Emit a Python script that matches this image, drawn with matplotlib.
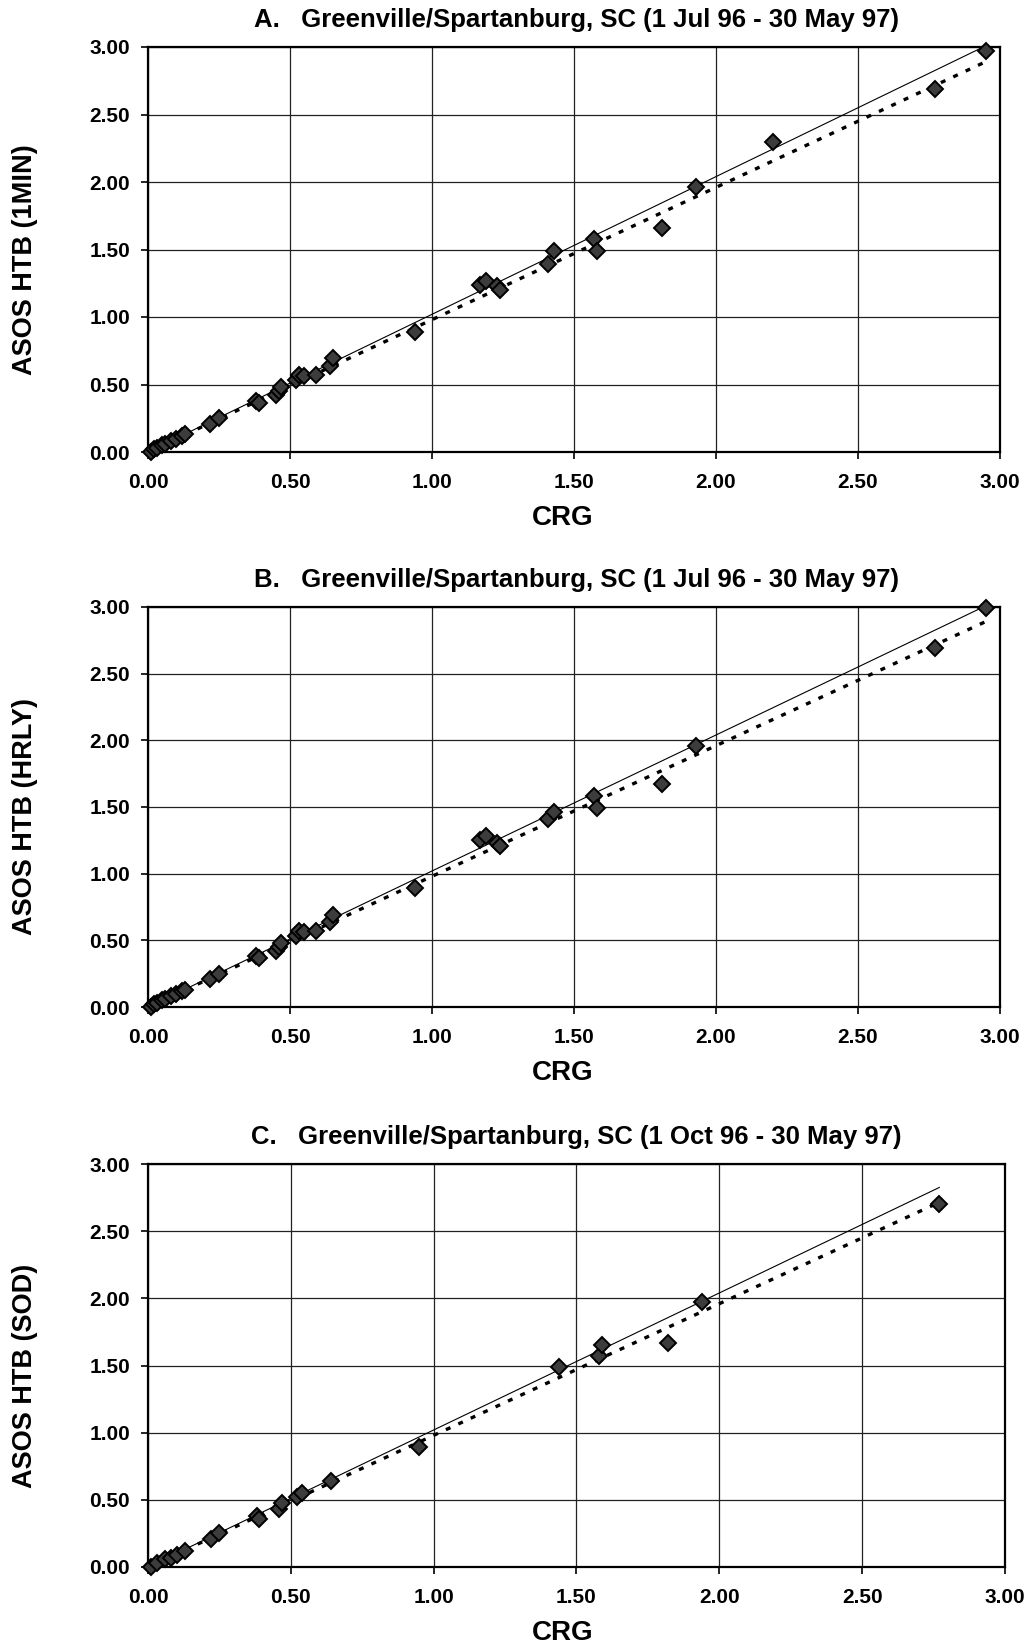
import numpy as np
import matplotlib.pyplot as plt

# data (CRG vs ASOS HTB, inches)
a_crg = [0.01, 0.02, 0.03, 0.05, 0.06, 0.08, 0.10, 0.12, 0.13, 0.22, 0.25,
         0.38, 0.39, 0.45, 0.46, 0.47, 0.52, 0.53, 0.55, 0.59, 0.64, 0.65,
         0.94, 1.17, 1.19, 1.23, 1.24, 1.41, 1.43, 1.57, 1.58, 1.81, 1.93,
         2.20, 2.77, 2.95]
a_htb = [0.00, 0.02, 0.03, 0.05, 0.06, 0.08, 0.10, 0.12, 0.13, 0.21, 0.25,
         0.38, 0.36, 0.42, 0.45, 0.48, 0.53, 0.57, 0.56, 0.57, 0.64, 0.70,
         0.89, 1.24, 1.27, 1.23, 1.20, 1.39, 1.49, 1.58, 1.49, 1.66, 1.96,
         2.30, 2.69, 2.97]

b_crg = [0.01, 0.02, 0.03, 0.05, 0.06, 0.08, 0.10, 0.12, 0.13, 0.22, 0.25,
         0.38, 0.39, 0.45, 0.46, 0.47, 0.52, 0.53, 0.55, 0.59, 0.64, 0.65,
         0.94, 1.17, 1.19, 1.23, 1.24, 1.41, 1.43, 1.57, 1.58, 1.81, 1.93,
         2.77, 2.95]
b_htb = [0.00, 0.02, 0.03, 0.05, 0.06, 0.08, 0.10, 0.12, 0.13, 0.21, 0.25,
         0.38, 0.37, 0.42, 0.45, 0.48, 0.53, 0.57, 0.56, 0.57, 0.64, 0.69,
         0.89, 1.25, 1.28, 1.23, 1.21, 1.41, 1.46, 1.58, 1.49, 1.67, 1.96,
         2.69, 2.99]

c_crg = [0.01, 0.03, 0.06, 0.08, 0.10, 0.13, 0.22, 0.25, 0.38, 0.39, 0.46,
         0.47, 0.52, 0.54, 0.64, 0.95, 1.44, 1.58, 1.59, 1.82, 1.94, 2.77]
c_htb = [0.00, 0.03, 0.06, 0.07, 0.09, 0.12, 0.21, 0.25, 0.38, 0.36, 0.43,
         0.48, 0.52, 0.55, 0.64, 0.89, 1.49, 1.57, 1.65, 1.67, 1.97, 2.70]

titles = ["A.   Greenville/Spartanburg, SC (1 Jul 96 - 30 May 97)",
          "B.   Greenville/Spartanburg, SC (1 Jul 96 - 30 May 97)",
          "C.   Greenville/Spartanburg, SC (1 Oct 96 - 30 May 97)"]
ylabels = ["ASOS HTB (1MIN)", "ASOS HTB (HRLY)", "ASOS HTB (SOD)"]
ticks = [0.0, 0.5, 1.0, 1.5, 2.0, 2.5, 3.0]
tick_labels = ["0.00", "0.50", "1.00", "1.50", "2.00", "2.50", "3.00"]

solid_slope = 1.02
fit_slope = 0.98

plt.rcParams['font.family'] = ['Liberation Sans', 'DejaVu Sans']
plt.rcParams['font.weight'] = 'bold'

W, H = 1030, 1646
fig = plt.figure(figsize=(W / 100, H / 100), dpi=100)

# pixel boxes of the three panels: (left, top, right, bottom)
boxes = [(148, 47, 1000, 452), (148, 607, 1000, 1007), (148, 1164, 1005, 1567)]
panels = [(a_crg, a_htb), (b_crg, b_htb), (c_crg, c_htb)]

for k in range(3):
    l, t, r, b = boxes[k]
    ax = fig.add_axes([l / W, 1 - b / H, (r - l) / W, (b - t) / H])
    xs, ys = panels[k]
    xs = np.array(xs)
    ys = np.array(ys)
    ax.set_xlim(0, 3)
    ax.set_ylim(0, 3)
    ax.set_xticks(ticks)
    ax.set_yticks(ticks)
    ax.set_xticklabels(tick_labels, fontsize=15, fontweight='bold')
    ax.set_yticklabels(tick_labels, fontsize=15, fontweight='bold')
    ax.tick_params(axis='x', direction='out', length=5, width=1.2, pad=10)
    ax.tick_params(axis='y', direction='out', length=5, width=1.2, pad=8)
    ax.grid(True, color='#222222', linewidth=0.9)
    ax.set_axisbelow(True)
    for s in ax.spines.values():
        s.set_linewidth(1.6)

    xl = np.array([0, xs.max()])
    ax.plot(xl, solid_slope * xl, color='black', linewidth=0.8, zorder=2)
    ax.plot(xl, fit_slope * xl, color='black', linewidth=2.4,
            linestyle=(0, (1.5, 2.6)), zorder=2)
    ax.plot(xs, ys, linestyle='none', marker='D', markersize=8,
            markerfacecolor='#3c3c3c', markeredgecolor='black',
            markeredgewidth=1.4, zorder=3, clip_on=False)

    fig.text(576 / W, 1 - (t - 27) / H, titles[k], ha='center',
             va='center', fontsize=18.5, fontweight='bold')
    fig.text(563 / W, 1 - (b + 66) / H, "CRG", ha='center', va='center',
             fontsize=20, fontweight='bold')
    fig.text(25 / W, 1 - ((t + b) / 2 + 10) / H, ylabels[k], ha='center',
             va='center', rotation=90, fontsize=19.5, fontweight='bold')

fig.savefig("out.png", dpi=100, facecolor='white')
